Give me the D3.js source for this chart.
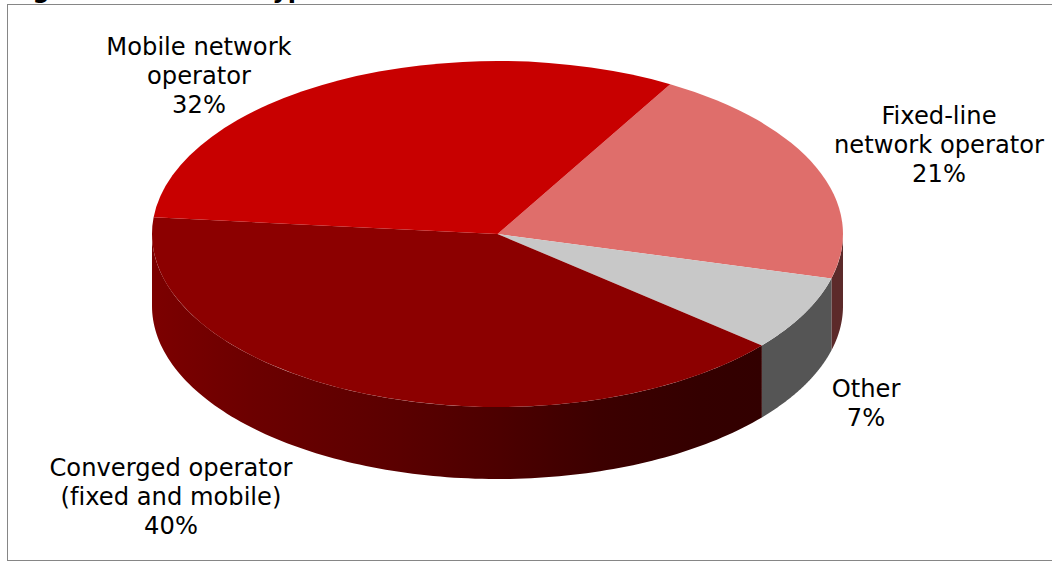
<!DOCTYPE html>
<html><head><meta charset="utf-8">
<style>html,body{margin:0;padding:0;background:#fff;overflow:hidden}svg{display:block}text{font-family:"DejaVu Sans",sans-serif;fill:#000;font-variant-ligatures:none}</style>
<script src="https://cdn.jsdelivr.net/npm/d3@7/dist/d3.min.js"></script></head>
<body><script>
const categories=["Fixed-line network operator","Other","Converged operator (fixed and mobile)","Mobile network operator"];
const values=[20.8,7.0,40.4,31.8];
const topColors=["#df6e6b","#c8c8c8","#8c0000","#c80000"];
const labelLines=[["Fixed-line","network operator","21%"],["Other","7%"],["Converged operator","(fixed and mobile)","40%"],["Mobile network","operator","32%"]];
const labelAnchors=[[939,116],[866,389],[171,468],[199,47]];
const sideStops=[152,250,400,500,600,700,764];
const sideShades=["#7c0000","#6c0000","#5a0000","#4c0000","#3c0000","#340000","#320000"];
const W=1052,H=561,cx=497.5,cy=234,rx=345.5,ry=173,depth=72;
const svg=d3.select("body").append("svg").attr("width",W).attr("height",H);
svg.append("text").attr("x",8).attr("y",-2).attr("font-weight","bold").style("font-size","24px").text("Figure 5: Network type");
svg.append("rect").attr("x",7.5).attr("y",4.5).attr("width",W).attr("height",556).attr("fill","#fff").attr("stroke","#868686");
const x0=sideStops[0],x1=sideStops[sideStops.length-1];
const grad=svg.append("defs").append("linearGradient").attr("id","sideRed").attr("gradientUnits","userSpaceOnUse")
  .attr("x1",x0).attr("x2",x1).attr("y1",0).attr("y2",0);
const offset=d3.scaleLinear().domain([x0,x1]).range([0,1]);
sideStops.forEach((s,i)=>grad.append("stop").attr("offset",offset(s)).attr("stop-color",sideShades[i]));
const sideFill=["#5c2a2a","#555555","url(#sideRed)",null];
const pie=d3.pie().sort(null).value(d=>d).startAngle(Math.PI/6).endAngle(Math.PI/6+2*Math.PI);
const arcs=pie(values);
const px=a=>cx+rx*Math.sin(a), py=a=>cy-ry*Math.cos(a);
const sides=svg.append("g");
arcs.forEach((d,i)=>{
  const a0=Math.max(d.startAngle,Math.PI/2),a1=Math.min(d.endAngle,3*Math.PI/2);
  if(a1<=a0||!sideFill[i])return;
  const st=120,p=d3.path();
  p.moveTo(px(a0),py(a0));
  for(let j=1;j<=st;j++){const a=a0+(a1-a0)*j/st;p.lineTo(px(a),py(a));}
  for(let j=st;j>=0;j--){const a=a0+(a1-a0)*j/st;p.lineTo(px(a),py(a)+depth);}
  p.closePath();
  sides.append("path").attr("d",p.toString()).attr("fill",sideFill[i]);
});
const arc=d3.arc().innerRadius(0).outerRadius(rx);
const face=svg.append("g").attr("transform",`translate(${cx},${cy}) scale(1,${ry/rx})`);
face.selectAll("path").data(arcs).join("path").attr("d",arc).attr("fill",(d,i)=>topColors[i]);
labelLines.forEach((lines,i)=>{
  const t=svg.append("text").attr("text-anchor","middle").style("font-size","24.2px");
  lines.forEach((l,j)=>t.append("tspan").attr("x",labelAnchors[i][0]).attr("y",labelAnchors[i][1]+8+j*29).text(l));
});
</script></body></html>
